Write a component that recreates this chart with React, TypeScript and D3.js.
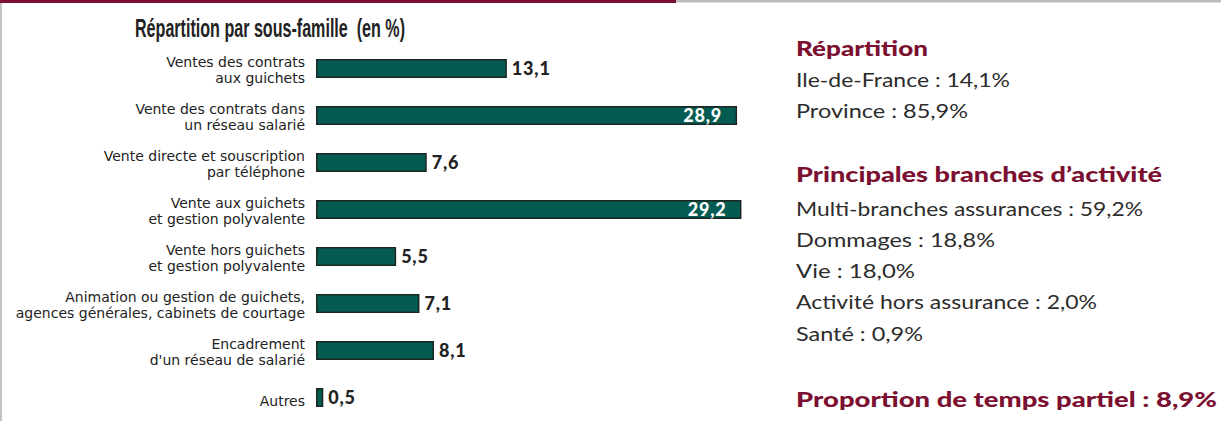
import React from "react";
import * as d3 from "d3";

// Sub-family breakdown (%)
const categories: string[][] = [
  ["Ventes des contrats", "aux guichets"],
  ["Vente des contrats dans", "un réseau salarié"],
  ["Vente directe et souscription", "par téléphone"],
  ["Vente aux guichets", "et gestion polyvalente"],
  ["Vente hors guichets", "et gestion polyvalente"],
  ["Animation ou gestion de guichets,", "agences générales, cabinets de courtage"],
  ["Encadrement", "d'un réseau de salarié"],
  ["Autres"],
];
const values: number[] = [13.1, 28.9, 7.6, 29.2, 5.5, 7.1, 8.1, 0.5];

// Side panel figures
const regions: string[] = ["Ile-de-France", "Province"];
const regionShares: string[] = ["14,1", "85,9"];
const branches: string[] = ["Multi-branches assurances", "Dommages", "Vie", "Activité hors assurance", "Santé"];
const branchShares: string[] = ["59,2", "18,8", "18,0", "2,0", "0,9"];
const partTime = "8,9";

const W = 1221;
const H = 421;
const MAROON = "#7b1030";
const TEAL = "#045b51";
const BODY = "#2c2c2c";

const fmt = (v: number) => v.toFixed(1).replace(".", ",");

export default function App() {
  const x = d3.scaleLinear().domain([0, 30]).range([316, 316 + 30 * 14.57]);
  const keys = categories.map((c) => c.join(" "));
  const y = d3.scalePoint<string>().domain(keys).range([68.5, 397.5]);
  const barH = 19;

  const headFont = "Lato, 'Open Sans', sans-serif";
  const bodyFont = "Lato, 'Open Sans', sans-serif";
  const labelFont = "'DejaVu Sans', Verdana, sans-serif";

  const regionLines = regions.map((r, i) => `${r} : ${regionShares[i]}%`);
  const branchLines = branches.map((b, i) => `${b} : ${branchShares[i]}%`);
  const regionEnds = [1010, 968];
  const branchEnds = [1143, 995, 915, 1097, 923];
  const branchY = [215.5, 246.8, 278, 309.4, 340.7];

  return (
    <svg
      width={W}
      height={H}
      style={{ position: "absolute", left: 0, top: 0, background: "#fff" }}
    >
      {/* frame rules */}
      <rect x={0} y={0} width={676} height={3} fill={MAROON} />
      <rect x={676} y={0} width={W - 676} height={2.5} fill="#bdbdbd" />
      <rect x={0} y={3} width={2} height={H - 3} fill="#c4c4c4" />

      {/* chart title */}
      <text
        x={135}
        y={37}
        textLength={270}
        lengthAdjust="spacingAndGlyphs"
        fontFamily="'Liberation Sans Narrow', 'Liberation Sans', Arial, sans-serif"
        fontWeight={700}
        fontSize={25}
        fill="#222"
        style={{ whiteSpace: "pre" }}
      >
        {"Répartition par sous-famille  (en %)"}
      </text>

      {/* bars */}
      {values.map((v, i) => {
        const key = keys[i];
        const cy = y(key)!;
        const x0 = x(0);
        const x1 = x(v);
        const inside = v > 20;
        const lines = categories[i];
        return (
          <g key={key}>
            <rect
              x={x0 + 0.75}
              y={cy - barH / 2 + 0.75}
              width={Math.max(x1 - x0 - 1.5, 1)}
              height={barH - 1.5}
              fill={TEAL}
              stroke="#1c2624"
              strokeWidth={1.5}
            />
            <text
              x={inside ? x1 - 15 : x1 + 5}
              y={cy + 6.5}
              textAnchor={inside ? "end" : "start"}
              fontFamily={headFont}
              fontWeight={900}
              fontSize={18}
              letterSpacing={0.8}
              fill={inside ? "#fff" : "#222"}
            >
              {fmt(v)}
            </text>
            {lines.length === 1 ? (
              <text
                x={305}
                y={cy + 8}
                textAnchor="end"
                fontFamily={labelFont}
                fontSize={14}
                fill="#222"
              >
                {lines[0]}
              </text>
            ) : (
              lines.map((ln, j) => (
                <text
                  key={j}
                  x={305}
                  y={cy - 2 + j * 16}
                  textAnchor="end"
                  fontFamily={labelFont}
                  fontSize={14}
                  fill="#222"
                >
                  {ln}
                </text>
              ))
            )}
          </g>
        );
      })}

      {/* side panel */}
      <text x={796} y={56} textLength={132} lengthAdjust="spacingAndGlyphs"
        fontFamily={headFont} fontWeight={900} fontSize={21} fill={MAROON}>
        Répartition
      </text>
      {regionLines.map((t, i) => (
        <text key={t} x={796} y={87 + i * 31} textLength={regionEnds[i] - 796}
          lengthAdjust="spacingAndGlyphs" fontFamily={bodyFont} fontWeight={400} fontSize={20} fill={BODY}>
          {t}
        </text>
      ))}

      <text x={796} y={182} textLength={366} lengthAdjust="spacingAndGlyphs"
        fontFamily={headFont} fontWeight={900} fontSize={21} fill={MAROON}>
        Principales branches d’activité
      </text>
      {branchLines.map((t, i) => (
        <text key={t} x={796} y={branchY[i]} textLength={branchEnds[i] - 796}
          lengthAdjust="spacingAndGlyphs" fontFamily={bodyFont} fontWeight={400} fontSize={20} fill={BODY}>
          {t}
        </text>
      ))}

      <text x={796} y={407} textLength={421} lengthAdjust="spacingAndGlyphs"
        fontFamily={headFont} fontWeight={900} fontSize={21} fill={MAROON}>
        {`Proportion de temps partiel : ${partTime}%`}
      </text>
    </svg>
  );
}
